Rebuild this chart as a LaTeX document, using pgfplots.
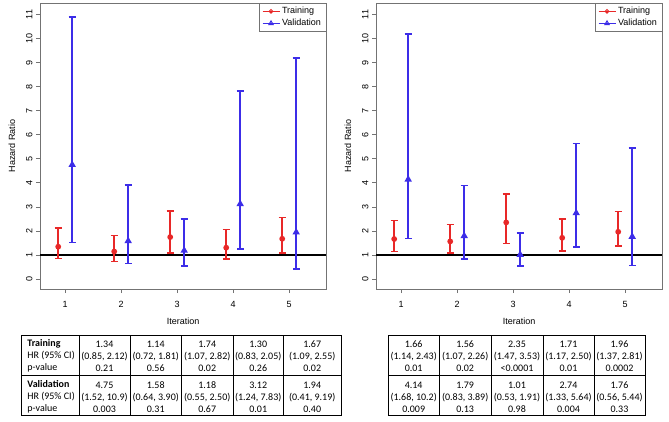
\documentclass[border=0pt]{standalone}
\usepackage{pgfplots}
\usepackage{pgfplotstable}
\pgfplotsset{compat=1.18}
\usepackage{fontspec}
\setmainfont{Liberation Sans}
\newfontfamily\tabfont{Carlito}
\newcommand\pf{\fontsize{9bp}{11bp}\selectfont}
\newcommand\tf{\tabfont\fontsize{10bp}{12bp}\selectfont}

\definecolor{trc}{RGB}{232,40,40}
\definecolor{vac}{RGB}{60,45,232}

% iteration, hazard ratio, 95% CI
\pgfplotstableread{
it hr lo hi
1 1.34 0.85 2.12
2 1.14 0.72 1.81
3 1.74 1.07 2.82
4 1.30 0.83 2.05
5 1.67 1.09 2.55
}\trainA
\pgfplotstableread{
it hr lo hi
1 4.75 1.52 10.9
2 1.58 0.64 3.90
3 1.18 0.55 2.50
4 3.12 1.24 7.83
5 1.94 0.41 9.19
}\validA
\pgfplotstableread{
it hr lo hi
1 1.66 1.14 2.43
2 1.56 1.07 2.26
3 2.35 1.47 3.53
4 1.71 1.17 2.50
5 1.96 1.37 2.81
}\trainB
\pgfplotstableread{
it hr lo hi
1 4.14 1.68 10.2
2 1.79 0.83 3.89
3 1.01 0.53 1.91
4 2.74 1.33 5.64
5 1.76 0.56 5.44
}\validB

\pgfplotsset{
  hrplot/.style={
    scale only axis, x=56bp, height=286bp,
    xmin=0.55, xmax=5.66, ymin=-0.42, ymax=11.48,
    xtick={1,...,5}, ytick={0,...,11},
    axis line style={black!55, line width=0.6bp},
    tick style={black!55, line width=0.6bp},
    major tick length=4bp, tick align=outside,
    xtick pos=bottom, ytick pos=left,
    font=\pf, tick label style={font=\pf},
    /pgf/number format/assume math mode=true,
    yticklabel style={rotate=90, anchor=south},
    xticklabel style={yshift=-5bp},
    xlabel={Iteration}, ylabel={Hazard Ratio},
    x label style={at={(axis description cs:0.5,-0.112)}, anchor=center},
    y label style={at={(axis description cs:-0.098,0.5)}, anchor=center},
    legend style={at={(rel axis cs:1,1)}, anchor=north east,
      draw=black!55, line width=0.6bp, font=\pf,
      inner xsep=3bp, inner ysep=2bp, row sep=0bp},
    legend cell align=left,
  },
  trbar/.style={trc, line width=1.7bp, only marks, mark=*, mark size=2bp, forget plot,
    error bars/.cd, y dir=both, y explicit,
    error bar style={trc, line width=1.7bp},
    error mark options={trc, rotate=90, mark size=3.5bp, line width=1.7bp}},
  vabar/.style={vac, line width=1.7bp, only marks, mark=triangle*, mark size=2.6bp, forget plot,
    error bars/.cd, y dir=both, y explicit,
    error bar style={vac, line width=1.7bp},
    error mark options={vac, rotate=90, mark size=3.5bp, line width=1.7bp}},
}

\newcommand\cell[5]{\node[align=center, font=\tf, inner sep=0pt] at (#1,#2) {#3\\#4\\#5};}

\begin{document}
\begin{tikzpicture}
\useasboundingbox (0,0) rectangle (669bp,-422bp);

\begin{axis}[hrplot, at={(40bp,-289bp)}, anchor=south west]
\addplot[black, line width=1.3bp, forget plot] coordinates {(0.55,1) (5.66,1)};
\addplot[trbar] table[x expr=\thisrow{it}-0.125, y=hr,
  y error plus expr=\thisrow{hi}-\thisrow{hr}, y error minus expr=\thisrow{hr}-\thisrow{lo}] {\trainA};
\addplot[vabar] table[x expr=\thisrow{it}+0.125, y=hr,
  y error plus expr=\thisrow{hi}-\thisrow{hr}, y error minus expr=\thisrow{hr}-\thisrow{lo}] {\validA};
\addlegendimage{line legend, trc, line width=1bp, mark=o, mark size=1.8bp}
\addlegendentry{Training}
\addlegendimage{line legend, vac, line width=1bp, mark=triangle, mark size=2.4bp}
\addlegendentry{Validation}
\end{axis}

\begin{axis}[hrplot, at={(376bp,-289bp)}, anchor=south west]
\addplot[black, line width=1.3bp, forget plot] coordinates {(0.55,1) (5.66,1)};
\addplot[trbar] table[x expr=\thisrow{it}-0.125, y=hr,
  y error plus expr=\thisrow{hi}-\thisrow{hr}, y error minus expr=\thisrow{hr}-\thisrow{lo}] {\trainB};
\addplot[vabar] table[x expr=\thisrow{it}+0.125, y=hr,
  y error plus expr=\thisrow{hi}-\thisrow{hr}, y error minus expr=\thisrow{hr}-\thisrow{lo}] {\validB};
\addlegendimage{line legend, trc, line width=1bp, mark=o, mark size=1.8bp}
\addlegendentry{Training}
\addlegendimage{line legend, vac, line width=1bp, mark=triangle, mark size=2.4bp}
\addlegendentry{Validation}
\end{axis}

\begin{scope}[x=1bp, y=-1bp, line width=0.8bp]
% left table
\draw (21,335) rectangle (341,415.7);
\draw (21,375.7) -- (341,375.7);
\foreach \xx in {79,130,181.5,233,283.5} \draw (\xx,335) -- (\xx,415.7);
\node[align=left, font=\tf, anchor=west, inner sep=0pt] at (27,356) {\textbf{Training}\\HR (95\% CI)\\p-value};
\node[align=left, font=\tf, anchor=west, inner sep=0pt] at (27,397) {\textbf{Validation}\\HR (95\% CI)\\p-value};
\cell{104.5}{356}{1.34}{(0.85, 2.12)}{0.21}
\cell{155.75}{356}{1.14}{(0.72, 1.81)}{0.56}
\cell{207.25}{356}{1.74}{(1.07, 2.82)}{0.02}
\cell{258.25}{356}{1.30}{(0.83, 2.05)}{0.26}
\cell{312.25}{356}{1.67}{(1.09, 2.55)}{0.02}
\cell{104.5}{397}{4.75}{(1.52, 10.9)}{0.003}
\cell{155.75}{397}{1.58}{(0.64, 3.90)}{0.31}
\cell{207.25}{397}{1.18}{(0.55, 2.50)}{0.67}
\cell{258.25}{397}{3.12}{(1.24, 7.83)}{0.01}
\cell{312.25}{397}{1.94}{(0.41, 9.19)}{0.40}
% right table
\draw (388,335) rectangle (645,415.7);
\draw (388,375.7) -- (645,375.7);
\foreach \xx in {439.3,491,543,594} \draw (\xx,335) -- (\xx,415.7);
\cell{413.7}{356}{1.66}{(1.14, 2.43)}{0.01}
\cell{465.2}{356}{1.56}{(1.07, 2.26)}{0.02}
\cell{517}{356}{2.35}{(1.47, 3.53)}{<0.0001}
\cell{568.5}{356}{1.71}{(1.17, 2.50)}{0.01}
\cell{619.5}{356}{1.96}{(1.37, 2.81)}{0.0002}
\cell{413.7}{397}{4.14}{(1.68, 10.2)}{0.009}
\cell{465.2}{397}{1.79}{(0.83, 3.89)}{0.13}
\cell{517}{397}{1.01}{(0.53, 1.91)}{0.98}
\cell{568.5}{397}{2.74}{(1.33, 5.64)}{0.004}
\cell{619.5}{397}{1.76}{(0.56, 5.44)}{0.33}
\end{scope}
\end{tikzpicture}
\end{document}
